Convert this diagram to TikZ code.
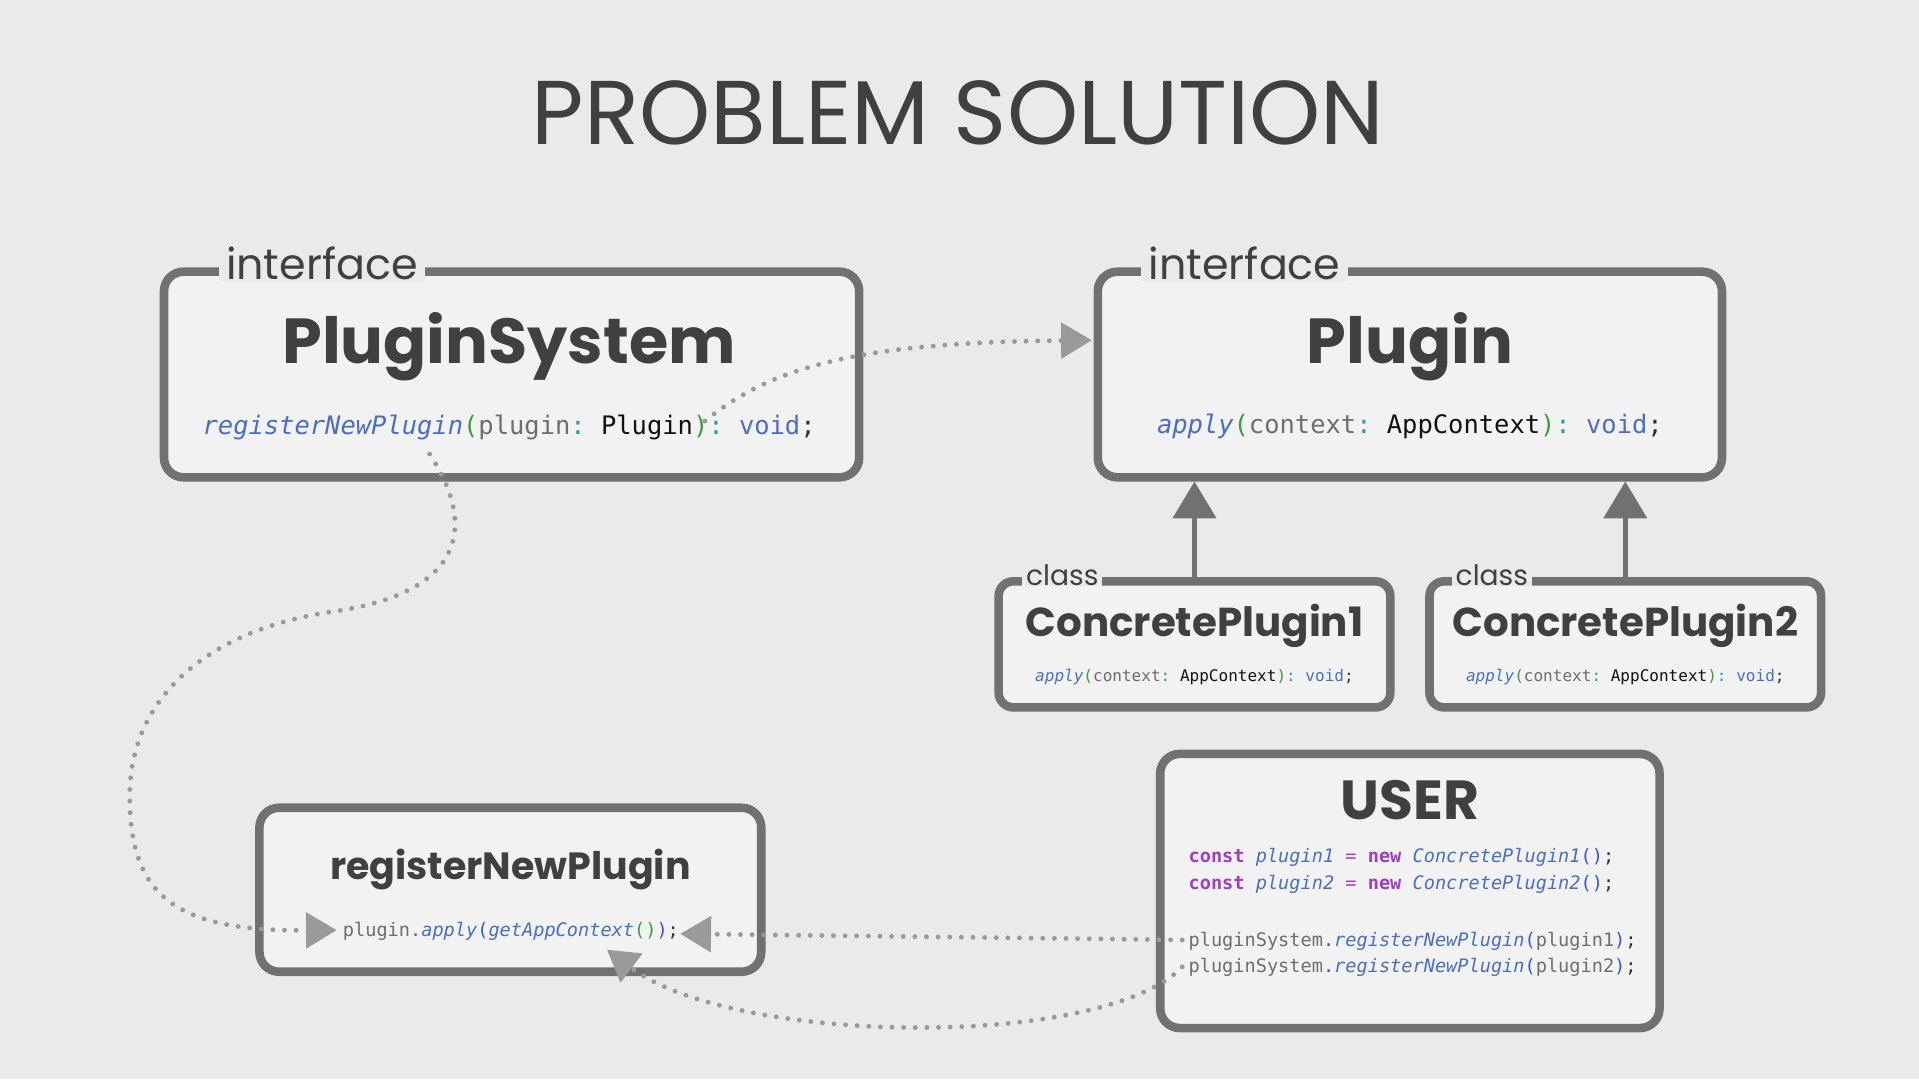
\documentclass[tikz,border=0pt]{standalone}
\usepackage{fontspec}
\setmainfont{Poppins}
\setmonofont{DejaVu Sans Mono}
\usetikzlibrary{arrows.meta,calc,positioning}

\definecolor{bgcol}{HTML}{EAEAEA}
\definecolor{boxfill}{HTML}{F2F2F2}
\definecolor{boxline}{HTML}{717171}
\definecolor{titlecol}{HTML}{404040}
\definecolor{dotcol}{HTML}{9A9A9A}
\definecolor{codeblue}{HTML}{4A6FC2}
\definecolor{codeparen}{HTML}{3557D6}
\definecolor{codegreen}{HTML}{3E9E3E}
\definecolor{codeteal}{HTML}{2A9D9D}
\definecolor{codegray}{HTML}{6E6E6E}
\definecolor{codeblack}{HTML}{111111}
\definecolor{codepurple}{HTML}{9C3FC2}
\definecolor{codedark}{HTML}{333333}

\newcommand\cfn[1]{\textcolor{codeblue}{\itshape #1}}
\newcommand\cblue[1]{\textcolor{codeblue}{#1}}
\newcommand\cpar[1]{\textcolor{codegray}{#1}}
\newcommand\ctype[1]{\textcolor{codeblack}{#1}}
\newcommand\cbr[1]{\textcolor{codegreen}{#1}}
\newcommand\ccol[1]{\textcolor{codeteal}{#1}}
\newcommand\ckw[1]{\textcolor{codepurple}{\bfseries #1}}
\newcommand\cpn[1]{\textcolor{codeparen}{#1}}

\tikzset{
  umlbox/.style={draw=boxline, line width=7pt, fill=boxfill, rounded corners=16pt, inner sep=0pt},
  stereo/.style={fill=bgcol, text=titlecol, inner xsep=6pt, inner ysep=1pt, anchor=base},
  boxtitle/.style={text=titlecol, anchor=base, inner sep=0pt},
  codeline/.style={text=codedark, anchor=base, inner sep=0pt},
  flow/.style={draw=dotcol, line width=4pt, line cap=round, dash pattern=on 0pt off 9.5pt,
    -{Triangle[length=25pt, width=30pt, line width=0pt, fill=dotcol]}},
  inherit/.style={draw=boxline, line width=4pt, -{Triangle[length=30pt, width=36pt, line width=0pt]}},
}

\begin{document}
\begin{tikzpicture}[x=1pt, y=-1pt]
  % canvas
  \useasboundingbox (0,0) rectangle (1568,882);
  \fill[bgcol] (0,0) rectangle (1568,882);
  \node[boxtitle, font=\fontsize{74}{84}\selectfont] (title) at (783,118) {PROBLEM SOLUTION};

  % interfaces
  \node[umlbox, minimum width=568pt, minimum height=168pt] (psys) at (418,306) {};
  \node[stereo, font=\fontsize{35}{40}\selectfont] (psysSt) at (263,228) {interface};
  \node[boxtitle, font=\bfseries\fontsize{52}{60}\selectfont] (psysName) at (416,297) {PluginSystem};
  \node[codeline, font=\ttfamily\fontsize{20.8}{24}\selectfont] (psysCode) at (416,355)
    {\cfn{registerNewPlugin}\cbr{(}\cpar{plugin}\ccol{:} \ctype{Plugin}\cbr{)}\ccol{:} \cblue{void};};

  \node[umlbox, minimum width=510pt, minimum height=168pt] (plugin) at (1152,306) {};
  \node[stereo, font=\fontsize{35}{40}\selectfont] (pluginSt) at (1017,228) {interface};
  \node[boxtitle, font=\bfseries\fontsize{52}{60}\selectfont] (pluginName) at (1152,297) {Plugin};
  \node[codeline, font=\ttfamily\fontsize{20.8}{24}\selectfont] (pluginCode) at (1152,354)
    {\cfn{apply}\cbr{(}\cpar{context}\ccol{:} \ctype{AppContext}\cbr{)}\ccol{:} \cblue{void};};

  % concrete classes
  \node[umlbox, rounded corners=12pt, minimum width=320pt, minimum height=103pt] (cpA) at (976,526.5) {};
  \node[stereo, font=\fontsize{23}{26}\selectfont, inner xsep=3pt] (cpASt) at (868,478) {class};
  \node[boxtitle, font=\bfseries\fontsize{33}{40}\selectfont] (cpAName) at (976,520) {ConcretePlugin1};
  \node[codeline, font=\ttfamily\fontsize{13.1}{16}\selectfont] (cpACode) at (976,557)
    {\cfn{apply}\cbr{(}\cpar{context}\ccol{:} \ctype{AppContext}\cbr{)}\ccol{:} \cblue{void};};

  \node[umlbox, rounded corners=12pt, minimum width=320pt, minimum height=103pt] (cpB) at (1328,526.5) {};
  \node[stereo, font=\fontsize{23}{26}\selectfont, inner xsep=3pt] (cpBSt) at (1219,478) {class};
  \node[boxtitle, font=\bfseries\fontsize{33}{40}\selectfont] (cpBName) at (1328,520) {ConcretePlugin2};
  \node[codeline, font=\ttfamily\fontsize{13.1}{16}\selectfont] (cpBCode) at (1328,557)
    {\cfn{apply}\cbr{(}\cpar{context}\ccol{:} \ctype{AppContext}\cbr{)}\ccol{:} \cblue{void};};

  \draw[inherit] (cpA.north) -- (cpA.north |- plugin.south);
  \draw[inherit] (cpB.north) -- (cpB.north |- plugin.south);

  % user code
  \node[umlbox, minimum width=408pt, minimum height=224pt] (user) at (1152,728) {};
  \node[boxtitle, font=\bfseries\fontsize{45}{52}\selectfont] (userName) at (1152,670) {USER};
  \node[codeline, anchor=base west, font=\ttfamily\fontsize{15.2}{18}\selectfont] (userNewA) at (971,705)
    {\ckw{const} \cfn{plugin1} \textcolor{codepurple}{=} \ckw{new} \cfn{ConcretePlugin1}\cpn{()};};
  \node[codeline, anchor=base west, font=\ttfamily\fontsize{15.2}{18}\selectfont] (userNewB) at (971,727)
    {\ckw{const} \cfn{plugin2} \textcolor{codepurple}{=} \ckw{new} \cfn{ConcretePlugin2}\cpn{()};};
  \node[codeline, anchor=base west, font=\ttfamily\fontsize{15.2}{18}\selectfont] (userRegA) at (971,773)
    {\cpar{pluginSystem}\cpn{.}\cfn{registerNewPlugin}\cpn{(}\cpar{plugin1}\cpn{)};};
  \node[codeline, anchor=base west, font=\ttfamily\fontsize{15.2}{18}\selectfont] (userRegB) at (971,795)
    {\cpar{pluginSystem}\cpn{.}\cfn{registerNewPlugin}\cpn{(}\cpar{plugin2}\cpn{)};};

  % registerNewPlugin body
  \node[umlbox, minimum width=410pt, minimum height=134pt] (rnp) at (417,727) {};
  \node[boxtitle, font=\bfseries\fontsize{31}{36}\selectfont] (rnpName) at (417,719) {registerNewPlugin};
  \node[codeline, anchor=base west, font=\ttfamily\fontsize{15.2}{18}\selectfont] (rnpCode) at (280,765.5)
    {\cpar{plugin}\textcolor{codepurple}{.}\cfn{apply}\cpn{(}\cfn{getAppContext}\cbr{()}\cpn{)};};

  % call flow
  \coordinate (psysArg) at (576,344);
  \coordinate (psysFn) at (351,371);
  \coordinate (pluginIn) at (892,278);
  \coordinate (rnpIn) at (275,760);
  \coordinate (rnpOutA) at (556,763);
  \coordinate (rnpOutB) at (496,776);
  \coordinate (userCallA) at (966,768);
  \coordinate (userCallB) at (966,790);

  \draw[flow] (psysArg) .. controls (630,300) and (700,280) .. (pluginIn);
  \draw[flow] (psysFn) .. controls (390,430) and (380,485) .. (270,500)
    .. controls (170,515) and (106,570) .. (106,650)
    .. controls (106,730) and (140,761) .. (rnpIn);
  \draw[flow] (userCallA) -- (rnpOutA);
  \draw[flow] (userCallB) .. controls (900,858) and (600,854) .. (rnpOutB);
\end{tikzpicture}
\end{document}
